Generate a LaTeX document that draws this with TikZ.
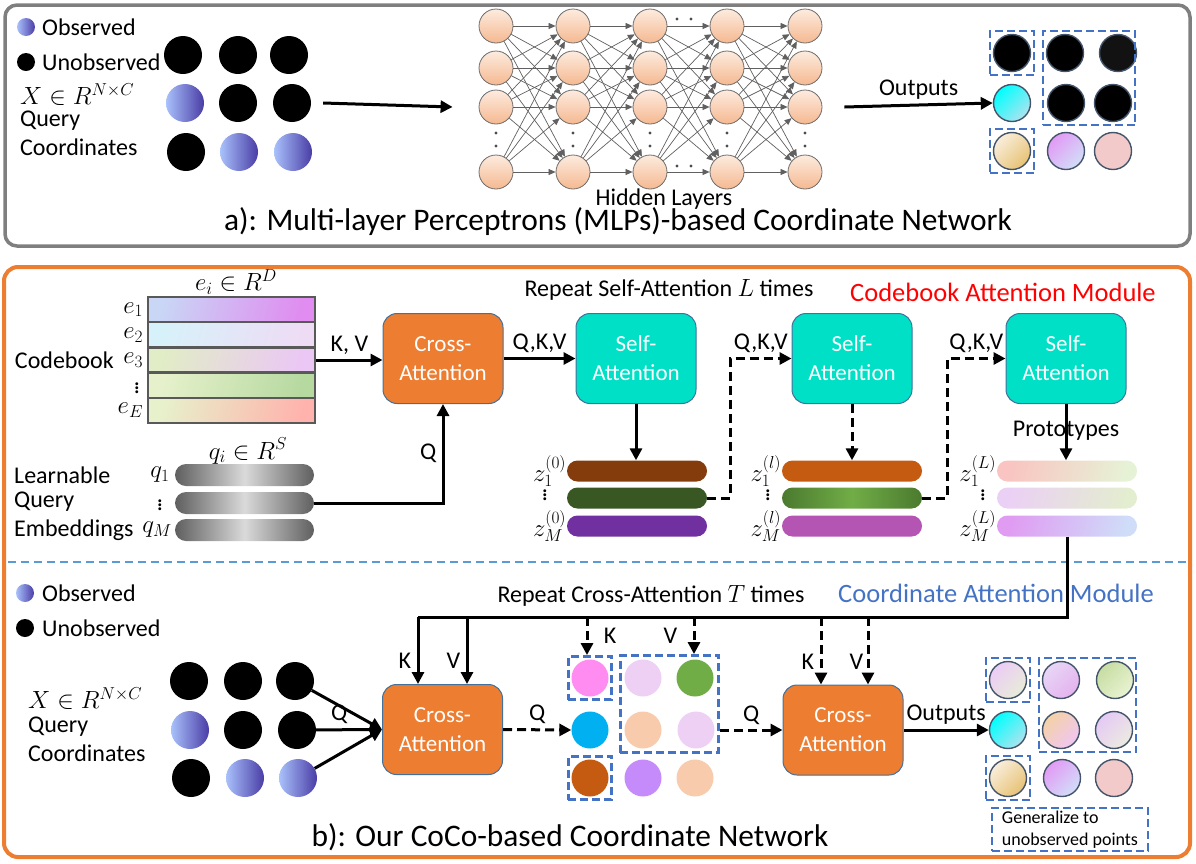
\documentclass[tikz,border=0pt]{standalone}
\usepackage{fontspec}
\setmainfont{Carlito}
\usetikzlibrary{arrows.meta,positioning,fit}

\definecolor{frameA}{HTML}{7F7F7F}
\definecolor{frameB}{HTML}{ED7D31}
\definecolor{attnO}{HTML}{ED7D31}
\definecolor{attnT}{HTML}{00E0C6}
\definecolor{edgeB}{HTML}{41719C}
\definecolor{dashB}{HTML}{4472C4}
\definecolor{sepB}{HTML}{5B9BD5}
\definecolor{rimC}{HTML}{44546A}
\definecolor{obsL}{HTML}{A9C1FB}
\definecolor{obsD}{HTML}{4A3DA6}
\definecolor{neuTop}{HTML}{FDEBDF}
\definecolor{neuBot}{HTML}{F5B890}
\definecolor{cyA}{HTML}{00FFFF}
\definecolor{cyB}{HTML}{ADE3EE}
\definecolor{bgA}{HTML}{F9EEDC}
\definecolor{bgB}{HTML}{E7C274}
\definecolor{vtA}{HTML}{E29AF5}
\definecolor{vtB}{HTML}{D1DEF8}
\definecolor{pkO}{HTML}{F2CACA}
\definecolor{cbLine}{HTML}{595959}
\definecolor{qEdge}{HTML}{5F5F5F}
\definecolor{qMid}{HTML}{DADADA}
\definecolor{zBr}{HTML}{843C0C}
\definecolor{zDg}{HTML}{385723}
\definecolor{zPu}{HTML}{7030A0}
\definecolor{zOr}{HTML}{C55A11}
\definecolor{zGd}{HTML}{4B7A2E}
\definecolor{zGl}{HTML}{70AD47}
\definecolor{zMg}{HTML}{B455B4}

\tikzset{
  every node/.style={font=\fontsize{24}{28}\selectfont},
  lbl/.style={anchor=west, inner sep=0pt},
  mlbl/.style={inner sep=0.5pt},
  obs/.style={circle, inner sep=0pt, minimum size=38pt, left color=obsL, right color=obsD},
  unobs/.style={circle, inner sep=0pt, minimum size=38pt, fill=black},
  ball/.style 2 args={circle, inner sep=0pt, minimum size=37pt, left color=#1, right color=#2, shading angle=45},
  outball/.style 2 args={ball={#1}{#2}, draw=rimC, line width=1.4pt},
  neuron/.style={circle, inner sep=0pt, minimum size=34pt, draw=gray!85!black, line width=0.8pt, top color=neuTop, bottom color=neuBot},
  mlpedge/.style={draw=gray!75!black, line width=0.7pt, -{Triangle[length=7pt,width=6pt]}},
  attn/.style={rectangle, rounded corners=14pt, draw=edgeB, line width=1pt, minimum width=120pt, minimum height=90pt, text=white, align=center, font=\fontsize{23}{29}\selectfont},
  cross/.style={attn, fill=attnO},
  self/.style={attn, fill=attnT},
  arr/.style={line width=3pt, -{Triangle[length=12pt,width=12pt]}},
  darr/.style={arr, dash pattern=on 9pt off 5pt},
  hbox/.style={draw=dashB, line width=2.5pt, dash pattern=on 8pt off 4pt, inner sep=3pt},
  cbrow/.style={rectangle, minimum width=167pt, minimum height=25.2pt, inner sep=0pt, draw=cbLine, line width=2.5pt},
  cbfill/.style 2 args={left color=#1, right color=#2, shading angle=75},
  zpill/.style={rectangle, rounded corners=10.5pt, minimum width=140pt, minimum height=21pt, inner sep=0pt},
  qpill/.style={zpill, minimum width=139pt, minimum height=22pt, rounded corners=11pt, left color=qEdge, right color=qEdge, middle color=qMid},
  bigtitle/.style={font=\fontsize{31.4}{35}\selectfont},
  modtitle/.style={font=\fontsize{26.5}{30}\selectfont},
}

\begin{document}
\begin{tikzpicture}[x=1pt, y=-1pt]
\useasboundingbox (0,0) rectangle (1196,863);

% a) MLP-based coordinate network
\draw[frameA, line width=3.5pt, rounded corners=12pt] (5,5) rectangle (1190,246);
\node[obs, minimum size=18pt] (lgObsA) at (26,27) {};
\node[lbl] (lgObsAtxt) at (42,27) {Observed};
\node[unobs, minimum size=18pt] (lgUnA) at (26,62) {};
\node[lbl] (lgUnAtxt) at (42,62) {Unobserved};
\node[lbl] (setA) at (20,95) {$X \in R^{N\times C}$};
\node[lbl] (queryA) at (20,121) {Query};
\node[lbl] (coordA) at (20,147) {Coordinates};
\foreach \nm/\st/\px/\py in {qa11/unobs/183/55, qa12/unobs/238/55, qa13/unobs/289/55,
    qa21/obs/185/103, qa22/unobs/238/103, qa23/unobs/292/103,
    qa31/unobs/186/152, qa32/obs/239/152, qa33/obs/293/152}
  \node[\st] (\nm) at (\px,\py) {};

% hidden layers
\foreach \c/\px in {1/496,2/573,3/650,4/727,5/805} {
  \foreach \r/\py in {1/26,2/68,3/107,4/172}
    \node[neuron] (n\c\r) at (\px,\py) {};
  \fill[gray!60!black] (\px,133) circle[radius=1.7pt] (\px,146) circle[radius=1.7pt];
}
\foreach \c [evaluate=\c as \d using int(\c+1)] in {1,...,4}
  \foreach \r in {1,...,4}
    \foreach \s in {1,...,4}
      \draw[mlpedge] (n\c\r) -- (n\d\s);
\fill[gray!60!black] (677,19) circle[radius=1.7pt] (691,19) circle[radius=1.7pt]
                     (677,166) circle[radius=1.7pt] (691,166) circle[radius=1.7pt];
\node (hidden) at (664,199) {Hidden Layers};

\foreach \nm/\ca/\cb/\px/\py in {oa11/black/black/1012/53, oa12/black/black/1065/53, oa13/black!93/black!93/1118/53,
    oa21/cyA/cyB/1012/103, oa22/black/black/1066/103, oa23/black/black/1113/103,
    oa31/bgA/bgB/1012/151, oa32/vtA/vtB/1066/151, oa33/pkO/pkO/1113/151}
  \node[outball={\ca}{\cb}] (\nm) at (\px,\py) {};
\node[hbox, fit=(oa11)] (boxA1) {};
\node[hbox, fit=(oa12)(oa23)] (boxA2) {};
\node[hbox, fit=(oa31)] (boxA3) {};

\draw[arr] ([xshift=12pt]qa23.east) -- ([xshift=-26pt]n13.west);
\draw[arr] ([xshift=22pt]n53.east) -- (oa21.west) node[midway, above=1pt] {Outputs};
\node[bigtitle] (titleA) at (618,222) {a): Multi-layer Perceptrons (MLPs)-based Coordinate Network};

% b) CoCo-based coordinate network
\draw[frameB, line width=4pt, rounded corners=14pt] (4,267) rectangle (1190,857);
\draw[sepB, line width=1.5pt, dash pattern=on 8pt off 5pt] (8,562) -- (1188,562);

% codebook attention module
\foreach \i/\ca/\cb in {1/C9D6F5/E08CF0, 2/D7F1FA/EEDCF5, 3/E1EDC6/EBC7F5, 4/E6F1CB/B6D9A0, 5/E7F1CB/FFB3AC} {
  \definecolor{cbl\i}{HTML}{\ca}\definecolor{cbr\i}{HTML}{\cb}
  \node[cbrow, cbfill={cbl\i}{cbr\i}] (cb\i) at (231.5,{284.4+25.2*\i}) {};
}
\node[mlbl, left=3pt of cb1] (e1) {$e_1$};
\node[mlbl, left=3pt of cb2] (e2) {$e_2$};
\node[mlbl, left=3pt of cb3] (e3) {$e_3$};
\node[mlbl, left=6pt of cb4] (edots) {$\vdots$};
\node[mlbl, left=3pt of cb5] (eE) {$e_E$};
\node[anchor=east, inner sep=0pt] (codebook) at (114,360) {Codebook};
\node[mlbl] (eDim) at (236,282) {$e_i \in R^D$};

\foreach \k/\py in {1/475,2/503,3/530}
  \node[qpill] (qp\k) at (244.5,\py) {};
\node[mlbl] (qDim) at (248,451) {$q_i \in R^S$};
\node[mlbl] (q1) at (160,475) {$q_1$};
\node[mlbl] (qdots) at (160,502) {$\vdots$};
\node[mlbl] (qM) at (157,530) {$q_M$};
\node[lbl] (learn) at (14,475) {Learnable};
\node[lbl] (queryE) at (14,502) {Query};
\node[lbl] (embed) at (14,530) {Embeddings};

\node[cross] (caA) at (443,358.5) {Cross-\\Attention};
\node[self] (sa1) at (636,358.5) {Self-\\Attention};
\node[self] (sa2) at (852,358.5) {Self-\\Attention};
\node[self] (sa3) at (1066,358.5) {Self-\\Attention};

\node[zpill, fill=zBr] (z01) at (637,471) {};
\node[zpill, fill=zDg] (z02) at (637,498) {};
\node[zpill, fill=zPu] (z03) at (637,526) {};
\node[zpill, fill=zOr] (zl1) at (852,471) {};
\node[zpill, left color=zGd, right color=zGd, middle color=zGl] (zl2) at (852,498) {};
\node[zpill, fill=zMg] (zl3) at (852,526) {};
\definecolor{zLa}{HTML}{F9C4C1}\definecolor{zLb}{HTML}{E6F2D6}
\definecolor{zLc}{HTML}{EBD0F5}\definecolor{zLd}{HTML}{E3EDCF}
\definecolor{zLe}{HTML}{E09BF2}\definecolor{zLf}{HTML}{CFDDF8}
\node[zpill, cbfill={zLa}{zLb}] (zL1) at (1067,471) {};
\node[zpill, cbfill={zLc}{zLd}] (zL2) at (1067,498) {};
\node[zpill, cbfill={zLe}{zLf}] (zL3) at (1067,526) {};

\node[mlbl, anchor=east] (z0a) at (z01.west) {$z_1^{(0)}$};
\node[mlbl] (z0d) at (545,492) {$\vdots$};
\node[mlbl, anchor=east] (z0b) at (z03.west) {$z_M^{(0)}$};
\node[mlbl, anchor=east] (zla) at (zl1.west) {$z_1^{(l)}$};
\node[mlbl] (zld) at (768,492) {$\vdots$};
\node[mlbl, anchor=east] (zlb) at (zl3.west) {$z_M^{(l)}$};
\node[mlbl, anchor=east] (zLa) at (zL1.west) {$z_1^{(L)}$};
\node[mlbl] (zLd) at (983,492) {$\vdots$};
\node[mlbl, anchor=east] (zLb) at (zL3.west) {$z_M^{(L)}$};

\draw[arr] (cb3.east) -- (cb3.east -| caA.west) node[midway, above=1pt] {K, V};
\draw[arr] (qp2.east) -| (caA.south) node[pos=0.75, left=2pt] {Q};
\draw[arr] (caA) -- (sa1) node[midway, above=1pt] {Q,K,V};
\draw[arr] (sa1.south) -- (sa1.south |- z01.north);
\draw[darr] (z02.east) -- ++(23,0) |- (sa2.west) node[pos=0.75, above=1pt] {Q,K,V};
\draw[darr] (sa2.south) -- (sa2.south |- zl1.north);
\draw[darr] (zl2.east) -- ++(25,0) |- (sa3.west) node[pos=0.75, above=1pt] {Q,K,V};
\draw[arr] (sa3.south) -- (sa3.south |- zL1.north);
\node (proto) at (1066,431) {Prototypes};
\node (repSA) at (669,290) {Repeat Self-Attention $L$ times};
\node[modtitle, text=red] (camTitle) at (1003,292) {Codebook Attention Module};

% coordinate attention module
\node[obs, minimum size=18pt] (lgObsB) at (25,593) {};
\node[lbl] (lgObsBtxt) at (42,593) {Observed};
\node[unobs, minimum size=18pt] (lgUnB) at (25,628) {};
\node[lbl] (lgUnBtxt) at (42,628) {Unobserved};
\node[lbl] (setB) at (28,699) {$X \in R^{N\times C}$};
\node[lbl] (queryB) at (28,727) {Query};
\node[lbl] (coordB) at (28,753) {Coordinates};
\foreach \nm/\st/\px/\py in {qb11/unobs/189/681, qb12/unobs/243/681, qb13/unobs/295/681,
    qb21/obs/190/730, qb22/unobs/243/730, qb23/unobs/297/730,
    qb31/unobs/191/778, qb32/obs/245/778, qb33/obs/298/778}
  \node[\st] (\nm) at (\px,\py) {};

\node[cross] (caB) at (442.5,729.5) {Cross-\\Attention};
\node[cross] (caC) at (843,730) {Cross-\\Attention};

\definecolor{mMg}{HTML}{FF8CF0}\definecolor{mLv}{HTML}{EDD0F4}\definecolor{mGr}{HTML}{70AD47}
\definecolor{mCy}{HTML}{00B0F0}\definecolor{mPc}{HTML}{F8CBAD}\definecolor{mBr}{HTML}{C55A11}
\definecolor{mVi}{HTML}{C58BFA}
\foreach \nm/\cc/\px/\py in {mb11/mMg/590/678, mb12/mLv/643/678, mb13/mGr/695/678,
    mb21/mCy/590/730, mb22/mPc/643/730, mb23/mLv/696/730,
    mb31/mBr/590/778, mb32/mVi/643/778, mb33/mPc/695/778}
  \node[ball={\cc}{\cc}] (\nm) at (\px,\py) {};
\node[hbox, fit=(mb11)] (boxM1) {};
\node[hbox, fit=(mb12)(mb23), inner sep=4pt] (boxM2) {};
\node[hbox, fit=(mb31)] (boxM3) {};

\definecolor{oLa}{HTML}{ECCCF6}\definecolor{oLb}{HTML}{E7ECD8}
\definecolor{oPa}{HTML}{E8D6F6}\definecolor{oPb}{HTML}{E4B2EE}
\definecolor{oGa}{HTML}{C6DDA2}\definecolor{oGb}{HTML}{E9F3D2}
\definecolor{oBa}{HTML}{F4D2A6}\definecolor{oBb}{HTML}{F0C6F2}
\definecolor{oVa}{HTML}{E5C9F5}\definecolor{oVb}{HTML}{ECEBE0}
\foreach \nm/\ca/\cb/\px/\py in {ob11/oLa/oLb/1008/680, ob12/oPa/oPb/1061/680, ob13/oGa/oGb/1115/680,
    ob21/cyA/cyB/1008/730, ob22/oBa/oBb/1061/730, ob23/oVa/oVb/1114/730,
    ob31/bgA/bgB/1008/778, ob32/vtA/vtB/1062/778, ob33/pkO/pkO/1114/778}
  \node[outball={\ca}{\cb}] (\nm) at (\px,\py) {};
\node[hbox, fit=(ob11)] (boxO1) {};
\node[hbox, fit=(ob12)(ob23)] (boxO2) {};
\node[hbox, fit=(ob31)] (boxO3) {};
\node[hbox, minimum width=156pt, minimum height=43pt, inner sep=2pt, align=left,
      font=\fontsize{18}{22}\selectfont] (genBox) at (1070,829.5) {Generalize to\\unobserved points};

% prototypes feed the keys and values
\coordinate (busR) at (1067,617);
\coordinate (busK1) at (418,617);
\coordinate (busV1) at (467,617);
\coordinate (busK2) at (587,617);
\coordinate (busV2) at (694,617);
\coordinate (busK3) at (821,617);
\coordinate (busV3) at (868,617);
\draw[line width=3pt] (zL3.south) -- (busR) -- (busK1);
\draw[arr] (busK1) -- (busK1 |- caB.north) node[pos=0.66, left=2pt] {K};
\draw[arr] (busV1) -- (busV1 |- caB.north) node[pos=0.66, left=2pt] {V};
\draw[darr] (busK2) -- (busK2 |- boxM1.north) node[pos=0.5, right=12pt] {K};
\draw[darr] (busV2) -- (busV2 |- boxM2.north) node[pos=0.5, left=12pt] {V};
\draw[darr] (busK3) -- (busK3 |- caC.north) node[pos=0.66, left=2pt] {K};
\draw[darr] (busV3) -- (busV3 |- caC.north) node[pos=0.66, left=0pt] {V};

\draw[arr] (qb13) -- (caB.west);
\draw[arr] (qb23) -- (caB.west) node[pos=0.35, above=1pt] {Q};
\draw[arr] (qb33) -- (caB.west);
\draw[darr] (caB.east) -- (mb21.west) node[midway, above=1pt] {Q};
\draw[darr] (mb23.east -| boxM2.east) -- (mb23.east -| caC.west) node[midway, above=1pt] {Q};
\draw[arr] (caC.east) -- (ob21.west) node[midway, above=1pt] {Outputs};

\node (repCA) at (651,596) {Repeat Cross-Attention $T$ times};
\node[modtitle, text=dashB] (coamTitle) at (996,593) {Coordinate Attention Module};
\node[bigtitle] (titleB) at (570,837) {b): Our CoCo-based Coordinate Network};
\end{tikzpicture}
\end{document}
